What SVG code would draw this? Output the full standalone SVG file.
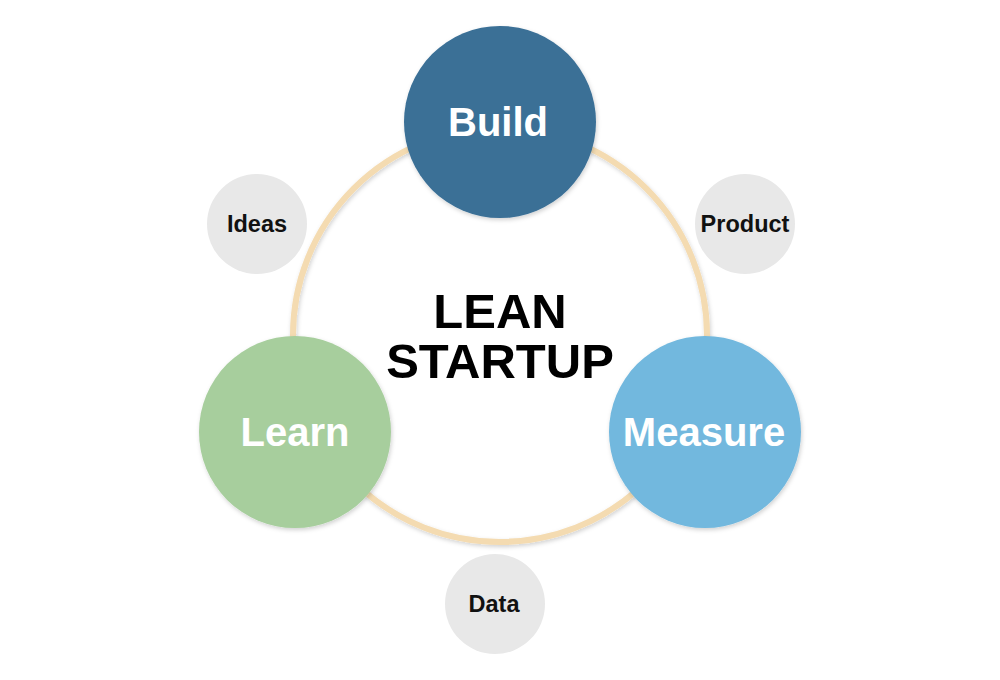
<svg xmlns="http://www.w3.org/2000/svg" width="1000" height="680" viewBox="0 0 1000 680">
<defs>
<filter id="sh" x="-20%" y="-20%" width="140%" height="140%">
<feDropShadow dx="1" dy="2" stdDeviation="2" flood-color="#000" flood-opacity="0.18"/>
</filter>
<style>
.big{font-family:"Liberation Sans",Arial,sans-serif;font-weight:bold;fill:#fff;text-anchor:middle;font-size:40px}
.small{font-family:"Liberation Sans",Arial,sans-serif;font-weight:bold;fill:#111;text-anchor:middle;font-size:23.5px}
.title{font-family:"Liberation Sans",Arial,sans-serif;font-weight:bold;fill:#000;text-anchor:middle;font-size:49px}
.sm{fill:#e8e8e8}
</style>
</defs>
<rect width="1000" height="680" fill="#fff"/>
<g id="connectors">
<circle cx="500" cy="335" r="207" fill="none" stroke="#f4dbb1" stroke-width="6" filter="url(#sh)"/>
</g>
<g id="title">
<text class="title" x="500" y="328">LEAN</text>
<text class="title" x="500" y="378">STARTUP</text>
</g>
<g id="ideas"><circle class="sm" cx="257" cy="224" r="50"/><text class="small" x="257" y="232">Ideas</text></g>
<g id="product"><circle class="sm" cx="745" cy="224" r="50"/><text class="small" x="745" y="232">Product</text></g>
<g id="data"><circle class="sm" cx="495" cy="604" r="50"/><text class="small" x="494" y="612">Data</text></g>
<g id="build"><circle cx="500" cy="122" r="96" fill="#3a6f96" filter="url(#sh)"/><text class="big" x="498" y="136">Build</text></g>
<g id="measure"><circle cx="705" cy="432" r="96" fill="#72b8de" filter="url(#sh)"/><text class="big" x="704" y="446">Measure</text></g>
<g id="learn"><circle cx="295" cy="432" r="96" fill="#a7ce9d" filter="url(#sh)"/><text class="big" x="295" y="446">Learn</text></g>
</svg>
